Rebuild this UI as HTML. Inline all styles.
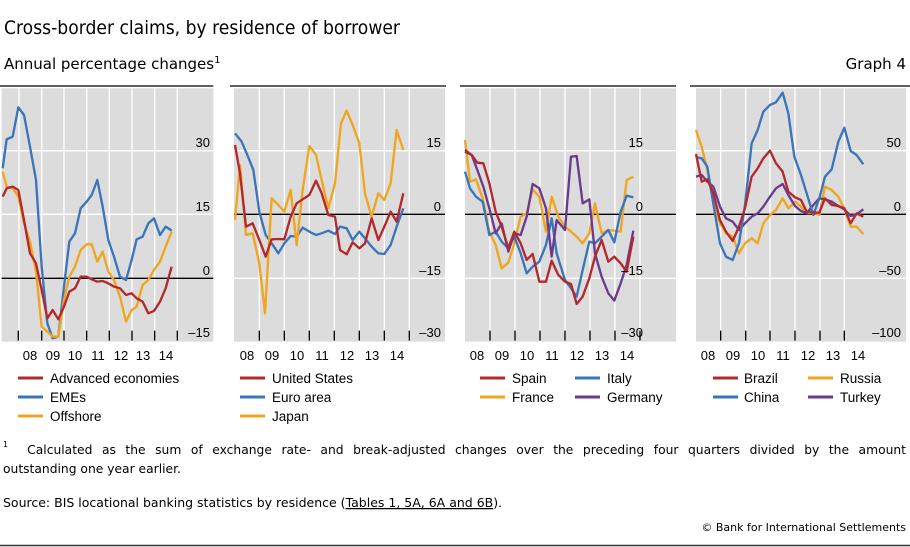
<!DOCTYPE html>
<html><head><meta charset="utf-8"><style>
body{margin:0;background:#fff;width:910px;height:547px;overflow:hidden;position:relative}
svg{display:block;font-family:"Liberation Sans",Arial,sans-serif}
.t{font-family:"DejaVu Sans","Liberation Sans",sans-serif}
#fn{position:absolute;left:3px;top:441px;width:903px;font-family:"DejaVu Sans","Liberation Sans",sans-serif;font-size:12.3px;line-height:19px;color:#000;white-space:nowrap}
#fn div.a{text-align:justify;text-align-last:justify}
#fn sup{font-size:8px;vertical-align:top;line-height:8px}
</style></head><body>
<svg width="910" height="547" viewBox="0 0 910 547" xmlns="http://www.w3.org/2000/svg">
<text x="4" y="34" font-size="19" class="t" fill="#000" textLength="396" lengthAdjust="spacingAndGlyphs">Cross-border claims, by residence of borrower</text>
<text x="4" y="69" font-size="15" class="t">Annual percentage changes<tspan font-size="10" dy="-6">1</tspan></text>
<text x="906" y="69" font-size="15" class="t" text-anchor="end">Graph 4</text>

<g fill="none" stroke-linejoin="round">
<g transform="translate(0,80) scale(0.3333)">
<line x1="0" y1="18" x2="640" y2="18" stroke="#000" stroke-width="4"/>
<rect x="5" y="25" width="635" height="760" fill="#dcdcdc"/>
<g stroke="#fff" stroke-width="4"><line x1="5" y1="212" x2="640" y2="212"/><line x1="5" y1="403" x2="640" y2="403"/>
<path d="M57 25V785M125 25V785M192 25V785M260 25V785M328 25V785M396 25V785M464 25V785M532 25V785"/></g>
<line x1="5" y1="595" x2="640" y2="595" stroke="#000" stroke-width="4"/>
<path d="M55 752V782M125 752V782M192 752V782M260 752V782M328 752V782M396 752V782M464 752V782M532 752V782" stroke="#000" stroke-width="4"/>
<g stroke-width="7">
<polyline stroke="#3a75bc" points="8,265 20,178 38,170 55,82 72,105 90,200 108,300 125,560 142,730 158,775 175,770 192,620 208,485 225,460 242,385 260,365 275,345 292,300 308,380 325,480 342,530 360,590 378,600 395,540 410,478 428,470 445,430 462,415 480,465 497,440 515,452"/>
<polyline stroke="#f0a51e" points="8,275 20,320 38,325 55,350 72,430 90,485 108,575 125,740 142,755 158,770 175,770 192,660 208,590 225,560 242,510 260,493 275,493 292,545 308,515 325,575 342,600 360,650 378,725 395,690 410,680 428,615 445,600 462,570 480,545 497,500 515,455"/>
<polyline stroke="#b3282d" points="8,350 20,325 38,320 55,330 72,420 90,520 108,550 125,630 142,715 158,690 175,718 192,680 208,635 225,625 242,590 260,590 275,598 292,605 308,603 325,610 342,620 360,625 378,645 395,640 410,655 428,665 445,700 462,693 480,665 497,625 515,560"/>
</g></g>
<g transform="translate(230,80) scale(0.3333)">
<line x1="0" y1="18" x2="648" y2="18" stroke="#000" stroke-width="4"/>
<rect x="12" y="25" width="633" height="760" fill="#dcdcdc"/>
<g stroke="#fff" stroke-width="4"><line x1="12" y1="212" x2="645" y2="212"/><line x1="12" y1="595" x2="645" y2="595"/>
<path d="M88 25V785M163 25V785M238 25V785M313 25V785M388 25V785M463 25V785M538 25V785"/></g>
<line x1="12" y1="403" x2="645" y2="403" stroke="#000" stroke-width="4"/>
<path d="M88 752V782M163 752V782M238 752V782M313 752V782M388 752V782M463 752V782M538 752V782" stroke="#000" stroke-width="4"/>
<g stroke-width="7">
<polyline stroke="#3a75bc" points="15,160 35,185 52,225 70,270 88,395 107,465 125,490 145,520 163,490 182,468 200,470 218,443 238,455 258,465 275,460 295,452 315,462 330,440 350,445 368,480 388,455 405,475 425,500 445,520 463,522 482,495 500,440 520,385"/>
<polyline stroke="#f0a51e" points="15,420 30,255 48,465 68,460 88,550 105,700 125,355 145,375 163,395 182,330 200,495 218,330 238,198 258,225 275,300 295,385 315,310 333,130 350,92 368,135 388,190 405,340 425,410 445,340 463,360 482,310 500,150 520,210"/>
<polyline stroke="#b3282d" points="15,195 30,280 48,440 68,430 88,480 107,530 125,478 145,477 163,478 182,410 200,370 218,358 238,345 258,302 275,340 295,405 315,410 330,510 350,523 368,487 388,505 405,490 425,415 445,480 463,440 482,395 500,425 520,340"/>
</g></g>
<g transform="translate(460,80) scale(0.3333)">
<line x1="0" y1="18" x2="648" y2="18" stroke="#000" stroke-width="4"/>
<rect x="15" y="25" width="633" height="760" fill="#dcdcdc"/>
<g stroke="#fff" stroke-width="4"><line x1="15" y1="212" x2="648" y2="212"/><line x1="15" y1="595" x2="648" y2="595"/>
<path d="M90 25V785M165 25V785M240 25V785M315 25V785M390 25V785M465 25V785M540 25V785"/></g>
<line x1="15" y1="403" x2="648" y2="403" stroke="#000" stroke-width="4"/>
<path d="M90 752V782M165 752V782M240 752V782M315 752V782M390 752V782M465 752V782M540 752V782" stroke="#000" stroke-width="4"/>
<g stroke-width="7">
<polyline stroke="#f0a51e" points="15,180 30,305 48,298 68,355 88,455 107,495 125,565 145,548 163,490 182,410 200,400 218,328 238,350 258,455 275,350 295,410 315,440 333,455 350,470 368,490 388,460 405,370 425,460 445,450 463,452 482,455 500,300 520,290"/>
<polyline stroke="#3a75bc" points="15,275 30,325 48,350 68,365 88,465 107,455 125,485 145,505 163,470 182,520 200,580 218,560 238,545 258,495 275,415 290,520 315,600 333,625 350,650 368,570 388,485 405,490 425,470 445,450 463,487 482,395 500,347 520,352"/>
<polyline stroke="#6a3a8e" points="15,215 35,225 52,270 70,320 88,385 107,460 125,430 145,515 163,460 182,465 200,410 218,312 238,325 258,385 275,530 290,420 315,450 333,230 350,228 368,370 388,358 405,520 425,590 445,640 463,662 482,610 500,555 520,452"/>
<polyline stroke="#b3282d" points="15,210 35,225 52,248 70,250 88,310 107,395 125,440 145,505 163,455 182,490 200,540 218,522 238,605 258,605 275,542 295,585 315,605 333,612 350,672 368,650 388,595 405,530 425,480 445,545 463,530 482,550 500,575 520,470"/>
</g></g>
<g transform="translate(690,80) scale(0.3333)">
<line x1="0" y1="18" x2="660" y2="18" stroke="#000" stroke-width="4"/>
<rect x="18" y="25" width="630" height="760" fill="#dcdcdc"/>
<g stroke="#fff" stroke-width="4"><line x1="18" y1="212" x2="648" y2="212"/><line x1="18" y1="595" x2="648" y2="595"/>
<path d="M92 25V785M167 25V785M240 25V785M315 25V785M390 25V785M463 25V785"/></g>
<line x1="18" y1="403" x2="648" y2="403" stroke="#000" stroke-width="4"/>
<path d="M92 752V782M167 752V782M240 752V782M315 752V782M390 752V782M463 752V782" stroke="#000" stroke-width="4"/>
<g stroke-width="7">
<polyline stroke="#f0a51e" points="18,150 35,200 52,270 70,370 90,430 108,460 128,470 147,520 165,490 185,475 203,490 220,430 240,405 258,390 278,355 295,385 315,365 333,380 350,400 370,398 388,405 405,320 425,330 445,350 463,385 482,440 500,440 520,462"/>
<polyline stroke="#6a3a8e" points="18,290 35,285 52,305 70,320 90,380 108,415 128,425 147,450 165,430 185,410 203,400 220,380 240,350 258,325 278,312 295,345 315,378 333,393 350,400 370,375 388,355 405,358 425,365 445,378 463,388 482,408 500,403 520,388"/>
<polyline stroke="#3a75bc" points="18,232 35,235 52,260 68,360 90,490 108,530 128,540 147,490 165,375 185,190 203,150 220,95 240,75 258,67 278,38 295,100 313,230 333,285 350,340 370,405 388,355 405,290 425,268 445,185 463,143 482,213 500,225 520,253"/>
<polyline stroke="#b3282d" points="18,222 35,305 52,298 70,340 90,420 108,455 128,483 147,440 165,385 185,290 203,265 220,235 240,212 258,250 278,275 295,335 315,352 333,360 350,395 370,398 388,398 405,355 425,375 445,378 463,385 482,430 500,400 520,410"/>
</g></g>
</g>

<g font-size="13" fill="#000" text-anchor="end">
<text x="210" y="147">30</text><text x="210" y="211">15</text><text x="210" y="275">0</text><text x="210" y="337">–15</text>
<text x="441" y="147">15</text><text x="441" y="211">0</text><text x="441" y="275">–15</text><text x="441" y="337">–30</text>
<text x="643" y="147">15</text><text x="643" y="211">0</text><text x="643" y="275">–15</text><text x="643" y="337">–30</text>
<text x="901" y="147">50</text><text x="901" y="211">0</text><text x="901" y="275">–50</text><text x="901" y="337">–100</text>
</g>
<g font-size="13" text-anchor="middle">
<text x="30" y="360">08</text><text x="53" y="360">09</text><text x="75" y="360">10</text><text x="98" y="360">11</text><text x="121" y="360">12</text><text x="143" y="360">13</text><text x="166" y="360">14</text>
<text x="247" y="360">08</text><text x="272" y="360">09</text><text x="297" y="360">10</text><text x="322" y="360">11</text><text x="347" y="360">12</text><text x="372" y="360">13</text><text x="397" y="360">14</text>
<text x="477" y="360">08</text><text x="502" y="360">09</text><text x="527" y="360">10</text><text x="552" y="360">11</text><text x="577" y="360">12</text><text x="602" y="360">13</text><text x="627" y="360">14</text>
<text x="708" y="360">08</text><text x="733" y="360">09</text><text x="758" y="360">10</text><text x="783" y="360">11</text><text x="808" y="360">12</text><text x="833" y="360">13</text><text x="858" y="360">14</text>
</g>
<g stroke-width="3">
<line x1="18" y1="378" x2="43" y2="378" stroke="#b3282d"/><line x1="18" y1="397" x2="43" y2="397" stroke="#3a75bc"/><line x1="18" y1="416" x2="43" y2="416" stroke="#f0a51e"/>
<line x1="240" y1="378" x2="265" y2="378" stroke="#b3282d"/><line x1="240" y1="397" x2="265" y2="397" stroke="#3a75bc"/><line x1="240" y1="416" x2="265" y2="416" stroke="#f0a51e"/>
<line x1="480" y1="378" x2="505" y2="378" stroke="#b3282d"/><line x1="480" y1="397" x2="505" y2="397" stroke="#f0a51e"/>
<line x1="575" y1="378" x2="600" y2="378" stroke="#3a75bc"/><line x1="575" y1="397" x2="600" y2="397" stroke="#6a3a8e"/>
<line x1="713" y1="378" x2="738" y2="378" stroke="#b3282d"/><line x1="713" y1="397" x2="738" y2="397" stroke="#3a75bc"/>
<line x1="808" y1="378" x2="833" y2="378" stroke="#f0a51e"/><line x1="808" y1="397" x2="833" y2="397" stroke="#6a3a8e"/>
</g>
<g font-size="13.5">
<text x="50" y="383">Advanced economies</text><text x="50" y="402">EMEs</text><text x="50" y="421">Offshore</text>
<text x="272" y="383">United States</text><text x="272" y="402">Euro area</text><text x="272" y="421">Japan</text>
<text x="512" y="383">Spain</text><text x="512" y="402">France</text>
<text x="607" y="383">Italy</text><text x="607" y="402">Germany</text>
<text x="744" y="383">Brazil</text><text x="744" y="402">China</text>
<text x="840" y="383">Russia</text><text x="840" y="402">Turkey</text>
</g>
<g class="t" font-size="12.5">
<text x="3" y="507">Source: BIS locational banking statistics by residence (<tspan text-decoration="underline">Tables 1, 5A, 6A and 6B</tspan>).</text>
<text x="906" y="531" font-size="11" text-anchor="end">© Bank for International Settlements</text>
</g>
<line x1="0" y1="545.5" x2="910" y2="545.5" stroke="#333" stroke-width="1.5"/>
</svg>
<div id="fn"><div class="a"><sup>1</sup>&nbsp; Calculated as the sum of exchange rate- and break-adjusted changes over the preceding four quarters divided by the amount</div><div>outstanding one year earlier.</div></div>
</body></html>
